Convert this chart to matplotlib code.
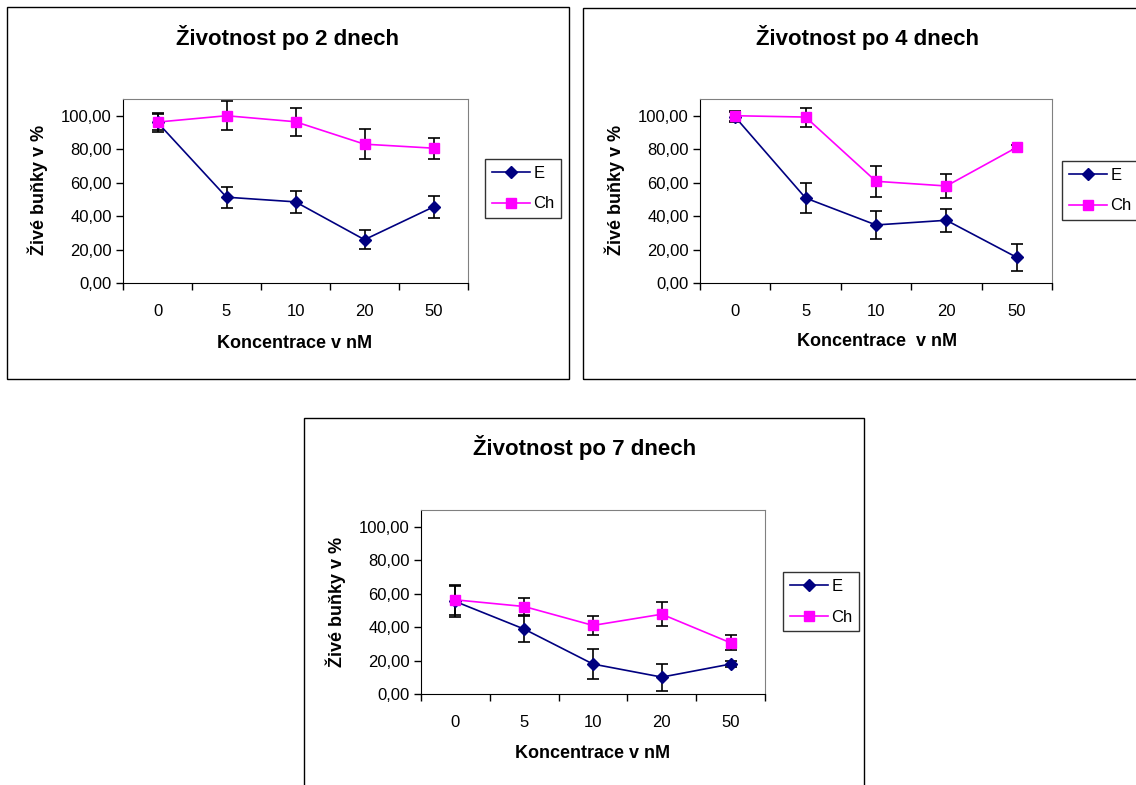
import numpy as np
import matplotlib
matplotlib.use("Agg")
import matplotlib.pyplot as plt
from matplotlib.patches import Rectangle
from matplotlib.lines import Line2D

plt.rcParams['font.family'] = ['Liberation Sans', 'DejaVu Sans']

# concentrations in nM (category axis)
concentrations = ['0', '5', '10', '20', '50']

# survival after 2 days
e_day2 = [96.0, 51.3, 48.5, 25.9, 45.5]
e_day2_err = [5.5, 6.2, 6.5, 5.8, 6.7]
ch_day2 = [96.2, 100.0, 96.4, 83.0, 80.6]
ch_day2_err = [5.0, 8.7, 8.5, 9.1, 6.3]

# survival after 4 days
e_day4 = [99.2, 50.8, 34.7, 37.5, 15.3]
e_day4_err = [3.0, 8.7, 8.1, 7.0, 8.0]
ch_day4 = [100.0, 99.2, 60.8, 58.0, 81.1]
ch_day4_err = [3.0, 5.7, 9.3, 7.3, 1.5]

# survival after 7 days
e_day7 = [55.3, 38.8, 17.9, 10.1, 17.9]
e_day7_err = [9.0, 7.8, 9.0, 8.1, 2.0]
ch_day7 = [56.3, 52.3, 41.0, 47.7, 30.6]
ch_day7_err = [9.0, 5.0, 5.7, 7.2, 4.4]

titles = ['Životnost po 2 dnech', 'Životnost po 4 dnech', 'Životnost po 7 dnech']
xlabels = ['Koncentrace v nM', 'Koncentrace  v nM', 'Koncentrace v nM']
ylabel = 'Živé buňky v %'

W, H = 1136, 785
fig = plt.figure(figsize=(W / 100, H / 100), dpi=100)


def fx(x):
    return x / W


def fy(y):
    return 1 - y / H


def make_panel(box, plot, legend_xy, title_xy, xlabel_xy, ylabel_xy,
               title, xlabel, e, e_err, ch, ch_err):
    # outer chart frame
    bx0, by0, bx1, by1 = box
    fig.patches.append(Rectangle((fx(bx0), fy(by1)), fx(bx1 - bx0), (by1 - by0) / H,
                                 transform=fig.transFigure, fill=False,
                                 edgecolor='black', linewidth=1.0))

    px0, py0, px1, py1 = plot
    ax = fig.add_axes([fx(px0), fy(py1), fx(px1 - px0), (py1 - py0) / H])
    x = np.arange(len(concentrations))

    ax.errorbar(x, e, yerr=e_err, color='#000080', marker='D', markersize=6.5,
                linewidth=1.2, ecolor='black', elinewidth=1.2, capsize=4,
                capthick=1.2, zorder=3)
    ax.errorbar(x, ch, yerr=ch_err, color='#FF00FF', marker='s', markersize=7,
                linewidth=1.2, ecolor='black', elinewidth=1.2, capsize=4,
                capthick=1.2, zorder=3)

    ax.set_xlim(-0.5, len(concentrations) - 0.5)
    ax.set_ylim(0, 110)
    ax.set_yticks(np.arange(0, 101, 20))
    ax.set_yticklabels([f'{v:.2f}'.replace('.', ',') for v in np.arange(0, 101, 20)])
    ax.set_xticks(np.arange(-0.5, len(concentrations), 1))
    ax.set_xticklabels([])
    ax.set_xticks(x, minor=True)
    ax.set_xticklabels(concentrations, minor=True)
    ax.tick_params(axis='x', which='major', direction='out', length=5, width=1)
    ax.tick_params(axis='x', which='minor', length=0, pad=15, labelsize=12)
    ax.tick_params(axis='y', direction='out', length=5, width=1, labelsize=12, pad=3)

    for side in ['top', 'right']:
        ax.spines[side].set_color('#808080')
    for side in ['left', 'bottom']:
        ax.spines[side].set_color('black')

    fig.text(fx(title_xy[0]), fy(title_xy[1]), title, ha='center', va='center',
             fontsize=16, fontweight='bold')
    fig.text(fx(xlabel_xy[0]), fy(xlabel_xy[1]), xlabel, ha='center', va='center',
             fontsize=13, fontweight='bold')
    fig.text(fx(ylabel_xy[0]), fy(ylabel_xy[1]), ylabel, ha='center', va='center',
             fontsize=13, fontweight='bold', rotation=90)

    handles = [Line2D([], [], color='#000080', marker='D', markersize=6.5, linewidth=1.2),
               Line2D([], [], color='#FF00FF', marker='s', markersize=7, linewidth=1.2)]
    leg = fig.legend(handles, ['E', 'Ch'], loc='upper left',
                     bbox_to_anchor=(fx(legend_xy[0]), fy(legend_xy[1])), frameon=True,
                     fancybox=False, edgecolor='black', fontsize=12,
                     handlelength=2.3, handletextpad=0.2, borderpad=0.4,
                     labelspacing=0.95, borderaxespad=0)
    leg.get_frame().set_linewidth(1.0)
    return ax


make_panel((7, 7, 569, 379), (123, 99, 468, 283), (485, 159),
           (287, 38), (295, 343), (38, 190),
           titles[0], xlabels[0], e_day2, e_day2_err, ch_day2, ch_day2_err)
make_panel((583, 8, 1145, 379), (700, 99, 1052, 283), (1062, 161),
           (868, 38), (877, 342), (615, 190),
           titles[1], xlabels[1], e_day4, e_day4_err, ch_day4, ch_day4_err)
make_panel((304, 418, 864, 800), (421, 510, 765, 694), (783, 572),
           (585, 448), (593, 754), (336, 602),
           titles[2], xlabels[2], e_day7, e_day7_err, ch_day7, ch_day7_err)

fig.savefig('out.png', dpi=100)
